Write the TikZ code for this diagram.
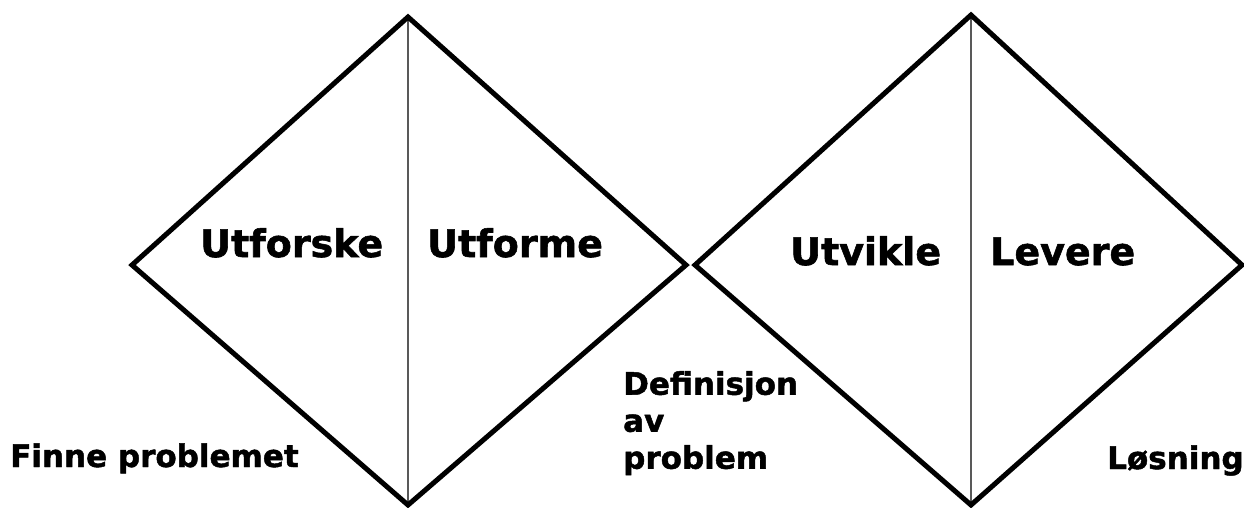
\documentclass[tikz,border=0pt]{standalone}
\usepackage{fontspec}
\setmainfont{DejaVu Sans}[BoldFeatures={FakeBold=1.5}]
\begin{document}
\begin{tikzpicture}[x=1pt,y=-1pt,
  edge/.style={line width=5pt,line join=miter,black},
  divider/.style={line width=1.4pt,gray!70!black},
  biglabel/.style={anchor=base west,inner sep=0pt,font=\fontsize{38}{44}\selectfont\bfseries},
  smalllabel/.style={anchor=base west,inner sep=0pt,align=left,font=\fontsize{31}{37}\selectfont\bfseries}]
\useasboundingbox (0,0) rectangle (1244,507);
% left diamond
\coordinate (Lt) at (408,17);
\coordinate (Ll) at (132,265);
\coordinate (Lr) at (686,265);
\coordinate (Lb) at (408,505);
% right diamond
\coordinate (Rt) at (971,15);
\coordinate (Rl) at (695,265);
\coordinate (Rr) at (1242,265);
\coordinate (Rb) at (971,505);
\draw[divider] (Lt) -- (Lb);
\draw[divider] (Rt) -- (Rb);
\draw[edge] (Lt) -- (Lr) -- (Lb) -- (Ll) -- cycle;
\draw[edge] (Rt) -- (Rr) -- (Rb) -- (Rl) -- cycle;
\node[biglabel] (utforske) at (200,257) {Utforske};
\node[biglabel] (utforme) at (427,257) {Utforme};
\node[biglabel] (utvikle) at (790,265) {Utvikle};
\node[biglabel] (levere) at (990,265) {Levere};
\node[smalllabel] (finne) at (10,467) {Finne problemet};
\node[smalllabel,anchor=north west] (def) at (623,371) {Definisjon\\av\\problem};
\node[smalllabel] (losning) at (1107,469) {Løsning};
\end{tikzpicture}
\end{document}
